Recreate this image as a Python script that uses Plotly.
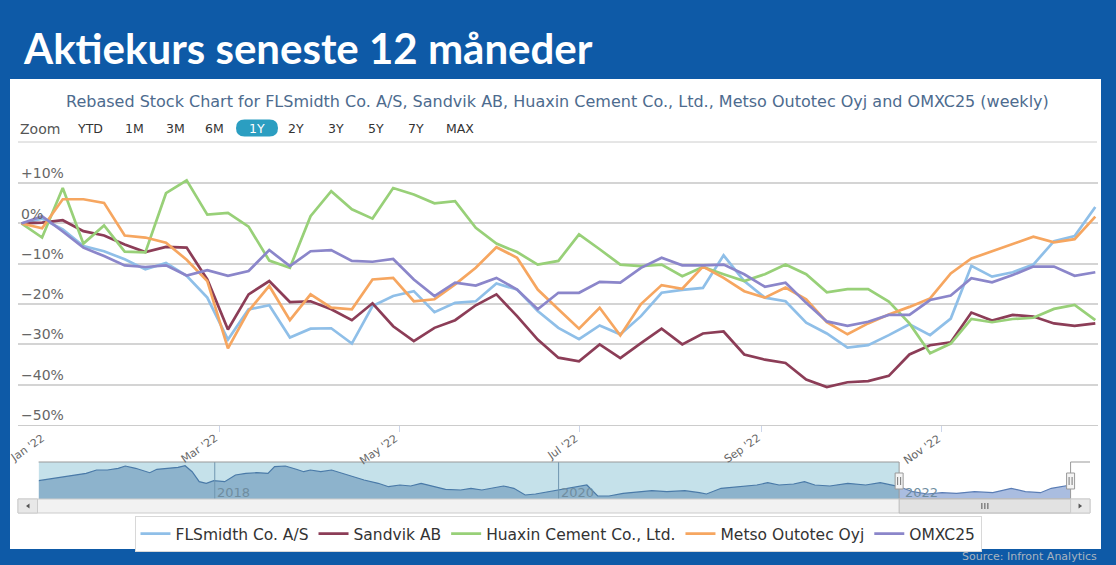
import plotly.graph_objects as go
import pandas as pd

W, H = 1116, 565


def px(x):
    return x / W


def py(y):
    return 1 - y / H


# ---------------- data ----------------
week_start = "2021-12-24"
n_weeks = 53
week_dates = pd.date_range(week_start, periods=n_weeks, freq="7D")

fls = [0, 1.2, -1.5, -5.6, -6.9, -8.9, -11.4, -9.8, -13, -18.4, -28.8, -21.3, -20.3, -28.3,
       -26.1, -26, -29.8, -20.5, -18, -16.8, -22, -19.7, -19.3, -14.9, -16.4, -21.7, -25.9,
       -28.7, -25.3, -27.5, -23, -17.2, -16.5, -16, -7.9, -14.3, -18.4, -19.3, -24.6, -27.3,
       -30.8, -30.2, -27.7, -25, -27.7, -23.6, -10.5, -13.2, -12.1, -10.2, -4.4, -3.1, 4.1]
sandvik = [0, 0.2, 0.8, -1.9, -3, -5.2, -7.1, -5.8, -6, -13.9, -26.3, -17.6, -14.3, -19.5,
           -19.3, -21.3, -24, -19.8, -25.5, -29.2, -25.9, -24, -20.3, -17.6, -23, -28.8, -33.3,
           -34.2, -30, -33.4, -29.7, -26.1, -30, -27.3, -26.8, -32.5, -33.8, -34.6, -38.7, -40.6,
           -39.4, -39.1, -37.8, -32.5, -30.2, -29.5, -22.1, -24.1, -22.7, -23.1, -24.8, -25.4, -24.8]
huaxin = [0, -3.5, 8.8, -5, -0.5, -7, -7.2, 7.5, 10.7, 2.2, 2.6, -0.8, -9.2, -11,
          1.8, 8, 3.5, 1.2, 8.8, 7.2, 5, 5.5, -1.1, -5, -7.1, -10.2, -9.3,
          -2.7, -6.4, -10.2, -10.6, -10.2, -13.1, -10.8, -12.6, -14.3, -12.6, -10.2, -12.6, -17.1,
          -16.3, -16.3, -19.4, -24.8, -32.2, -29.8, -23.7, -24.5, -23.7, -23.4, -21.2, -20.2, -24]
metso = [0, -1.2, 6, 6, 5.1, -3, -3.5, -4.8, -9, -14.3, -31, -21.7, -15.5, -24,
         -17.6, -20.9, -21.3, -13.9, -13.5, -19.3, -18.8, -15.1, -11, -5.9, -8.5, -16.4, -21.3,
         -26.1, -20.9, -27.8, -20, -15.3, -16.2, -10.7, -13.5, -16.8, -18.4, -15.9, -18.8, -24.5,
         -27.5, -24.8, -22.6, -20.7, -18.6, -12.4, -8.7, -6.9, -5, -3.3, -4.7, -3.9, 1.7]
omxc25 = [0, 1.8, -2, -6, -8.1, -10.4, -10.8, -10.4, -12.9, -11.6, -13, -11.8, -6.6, -10.6,
          -6.9, -6.6, -9.3, -9.5, -8.8, -13.9, -18, -14.7, -15.4, -13.5, -16.4, -21.3, -17.2,
          -17.2, -14.5, -14.7, -11, -8.5, -10.4, -10.4, -10.2, -12.6, -15.7, -14.7, -19.7, -24.3,
          -25.4, -24.4, -22.7, -22.7, -19, -17.9, -13.6, -14.6, -12.8, -10.7, -10.7, -13, -12.1]

series_names = ["FLSmidth Co. A/S", "Sandvik AB", "Huaxin Cement Co., Ltd.",
                "Metso Outotec Oyj", "OMXC25"]
series_values = [fls, sandvik, huaxin, metso, omxc25]
series_colors = ["#8fbfe8", "#8c3d57", "#98d078", "#f6a660", "#8b86ca"]

y_tick_vals = [10, 0, -10, -20, -30, -40, -50]
y_tick_text = ["+10%", "0%", "\u221210%", "\u221220%", "\u221230%", "\u221240%", "\u221250%"]
x_tick_vals = ["2022-01-01", "2022-03-01", "2022-05-01", "2022-07-01", "2022-09-01", "2022-11-01"]
x_tick_text = ["Jan '22", "Mar '22", "May '22", "Jul '22", "Sep '22", "Nov '22"]

# navigator (long history, relative level)
nav_dates = [
    "2016-12-23", "2017-01-25", "2017-03-04", "2017-04-03", "2017-04-25", "2017-05-18",
    "2017-06-10", "2017-06-25", "2017-07-17", "2017-08-01", "2017-08-16", "2017-08-31",
    "2017-09-23", "2017-10-15", "2017-10-30", "2017-11-14", "2017-11-29", "2017-12-14",
    "2017-12-30", "2018-01-22", "2018-02-14", "2018-03-08", "2018-03-31", "2018-04-24",
    "2018-05-08", "2018-05-31", "2018-06-23", "2018-07-09", "2018-07-23", "2018-08-14",
    "2018-09-06", "2018-09-29", "2018-10-23", "2018-11-14", "2018-12-14", "2019-01-05",
    "2019-01-29", "2019-02-21", "2019-03-15", "2019-04-07", "2019-05-06", "2019-06-07",
    "2019-06-29", "2019-07-22", "2019-08-14", "2019-09-06", "2019-09-28", "2019-10-22",
    "2019-11-13", "2019-12-13", "2020-01-14", "2020-03-01", "2020-03-24", "2020-04-17",
    "2020-05-17", "2020-06-17", "2020-07-17", "2020-08-18", "2020-09-25", "2020-10-26",
    "2020-11-10", "2020-12-11", "2021-01-18", "2021-02-25", "2021-03-20", "2021-04-13",
    "2021-05-14", "2021-06-06", "2021-06-28", "2021-07-30", "2021-09-06", "2021-10-14",
    "2021-11-14", "2021-12-10", "2021-12-24", "2022-01-22", "2022-02-22", "2022-03-25",
    "2022-04-25", "2022-06-02", "2022-07-11", "2022-08-19", "2022-09-18", "2022-10-20",
    "2022-11-12", "2022-12-04", "2022-12-23"]
nav_values = [
    18.3, 20.7, 23, 25.7, 29, 29,
    30.7, 33, 30.7, 28.3, 26.3, 29.7,
    30.7, 31.7, 33.3, 27.3, 17.3, 15.7,
    18.3, 17.3, 24, 25.7, 26.3, 25.7,
    32.3, 33, 29.7, 27.3, 29, 27.3,
    29, 25.7, 21.7, 19, 15.7, 12.3,
    14, 13, 15.7, 13, 9.7, 9,
    10.7, 9, 10.7, 13, 10.7, 4,
    5, 7.3, 10, 14, 3, 3,
    5.7, 7.3, 8.3, 7.3, 8.3, 6.3,
    5, 10.7, 12.3, 14, 16.3, 14,
    15, 17.3, 14, 13, 15.7, 14,
    16.3, 14, 12.3, 7.3, 5, 6.3,
    5.7, 7.3, 6.3, 10.7, 7.3, 6.3,
    10.7, 12.3, 14]
nav_year_lines = ["2018-01-01", "2020-01-01", "2022-01-01"]
nav_year_labels = ["2018", "2020", "2022"]

zoom_buttons = ["YTD", "1M", "3M", "6M", "1Y", "2Y", "3Y", "5Y", "7Y", "MAX"]
selected_button = "1Y"

FONT = "DejaVu Sans"
BLUE = "#0e5aa7"

# ---------------- layout geometry ----------------
main_x_range = ["2021-12-22 20:00", "2022-12-23 22:00"]
main_dom_x = [px(18), px(1098)]
main_dom_y = [py(425), py(165)]
nav_x_range = ["2016-12-23", "2022-12-26"]
nav_px = (38.6, 1072)
nav_dom_x = [px(nav_px[0]), px(nav_px[1])]
nav_top, nav_bot = 462, 499

sel_start = week_dates[0]
sel_end = week_dates[-1]


def nav_date_px(d):
    t0 = pd.Timestamp(nav_x_range[0])
    t1 = pd.Timestamp(nav_x_range[1])
    frac = (pd.Timestamp(d) - t0) / (t1 - t0)
    return nav_px[0] + frac * (nav_px[1] - nav_px[0])


h1 = nav_date_px(sel_start)
h2 = nav_date_px(sel_end)

fig = go.Figure()

for name, vals, col in zip(series_names, series_values, series_colors):
    fig.add_trace(go.Scatter(x=week_dates, y=vals, name=name, mode="lines",
                             line=dict(color=col, width=2.7), xaxis="x", yaxis="y",
                             hoverinfo="skip"))

# navigator area series: split into unselected and selected parts
nd = pd.to_datetime(nav_dates)
pre = [i for i, d in enumerate(nd) if d <= sel_start]
post = [i for i, d in enumerate(nd) if d >= sel_start]
fig.add_trace(go.Scatter(x=[nd[i] for i in pre], y=[nav_values[i] for i in pre], mode="lines",
                         fill="tozeroy", fillcolor="#8db3cc", line=dict(color="#4a7aa8", width=1.2),
                         xaxis="x2", yaxis="y2", showlegend=False, hoverinfo="skip"))
fig.add_trace(go.Scatter(x=[nd[i] for i in post], y=[nav_values[i] for i in post], mode="lines",
                         fill="tozeroy", fillcolor="#aabde0", line=dict(color="#5a7db5", width=1.2),
                         xaxis="x2", yaxis="y2", showlegend=False, hoverinfo="skip"))

shapes = []
# white panel
shapes.append(dict(type="rect", xref="paper", yref="paper", x0=px(10), x1=px(1101),
                   y0=py(549), y1=py(79), fillcolor="white", line=dict(width=0), layer="below"))
# separator under zoom row
shapes.append(dict(type="line", xref="paper", yref="paper", x0=px(18), x1=px(1097),
                   y0=py(142), y1=py(142), line=dict(color="#cccccc", width=1)))
# navigator unselected background
shapes.append(dict(type="rect", xref="x2", yref="y2 domain", x0=nav_x_range[0], x1=sel_start,
                   y0=0, y1=1, fillcolor="#c5e1ea", line=dict(width=0), layer="below"))
# navigator year lines
for d in nav_year_lines[:2]:
    shapes.append(dict(type="line", xref="x2", yref="y2 domain", x0=d, x1=d, y0=0, y1=1,
                       line=dict(color="#6f96b0", width=1)))
# navigator outline
outline = (f"M {px(nav_px[0])} {py(nav_top)} L {px(h1)} {py(nav_top)} L {px(h1)} {py(nav_bot)} "
           f"L {px(h2)} {py(nav_bot)} L {px(h2)} {py(nav_top)} L {px(1090)} {py(nav_top)}")
shapes.append(dict(type="path", xref="paper", yref="paper", path=outline,
                   line=dict(color="#999999", width=1)))
# scrollbar
sb_top, sb_bot = 499, 513
shapes.append(dict(type="rect", xref="paper", yref="paper", x0=px(18), x1=px(1090),
                   y0=py(sb_bot), y1=py(sb_top), fillcolor="#f2f2f2",
                   line=dict(color="#cccccc", width=1)))
shapes.append(dict(type="rect", xref="paper", yref="paper", x0=px(18), x1=px(37.5),
                   y0=py(sb_bot), y1=py(sb_top), fillcolor="#e8e8e8",
                   line=dict(color="#cccccc", width=1)))
shapes.append(dict(type="rect", xref="paper", yref="paper", x0=px(h1), x1=px(h2),
                   y0=py(sb_bot), y1=py(sb_top), fillcolor="#e2e2e2",
                   line=dict(color="#bbbbbb", width=1)))
shapes.append(dict(type="rect", xref="paper", yref="paper", x0=px(h2), x1=px(1090),
                   y0=py(sb_bot), y1=py(sb_top), fillcolor="#e8e8e8",
                   line=dict(color="#cccccc", width=1)))
mid = (h1 + h2) / 2
for dx in (-3, 0, 3):
    shapes.append(dict(type="line", xref="paper", yref="paper", x0=px(mid + dx), x1=px(mid + dx),
                       y0=py(503), y1=py(509), line=dict(color="#555555", width=1)))
shapes.append(dict(type="path", xref="paper", yref="paper",
                   path=f"M {px(29.5)} {py(503.5)} L {px(26)} {py(506)} L {px(29.5)} {py(508.5)} Z",
                   fillcolor="#555555", line=dict(width=0)))
rb = (h2 + 1090) / 2
shapes.append(dict(type="path", xref="paper", yref="paper",
                   path=f"M {px(rb - 1.7)} {py(503.5)} L {px(rb + 1.8)} {py(506)} L {px(rb - 1.7)} {py(508.5)} Z",
                   fillcolor="#555555", line=dict(width=0)))
# navigator handles
for hx in (h1, h2):
    shapes.append(dict(type="rect", xref="paper", yref="paper", x0=px(hx - 4), x1=px(hx + 4),
                       y0=py(489), y1=py(473), fillcolor="#f4f4f4",
                       line=dict(color="#999999", width=1)))
    for dx in (-1.5, 1.5):
        shapes.append(dict(type="line", xref="paper", yref="paper", x0=px(hx + dx), x1=px(hx + dx),
                           y0=py(477), y1=py(485), line=dict(color="#777777", width=1)))

# zoom buttons
btn_centers = [90, 134, 175, 215, 257, 296, 336, 376, 416, 460]
btn_y = 128
annotations = []
for lbl, cx in zip(zoom_buttons, btn_centers):
    if lbl == selected_button:
        x0, x1, y0, y1, r = cx - 21, cx + 21, btn_y - 8.5, btn_y + 8.5, 8.5
        path = (f"M {px(x0 + r)} {py(y0)} L {px(x1 - r)} {py(y0)} "
                f"Q {px(x1)} {py(y0)} {px(x1)} {py(btn_y)} Q {px(x1)} {py(y1)} {px(x1 - r)} {py(y1)} "
                f"L {px(x0 + r)} {py(y1)} Q {px(x0)} {py(y1)} {px(x0)} {py(btn_y)} "
                f"Q {px(x0)} {py(y0)} {px(x0 + r)} {py(y0)} Z")
        shapes.append(dict(type="path", xref="paper", yref="paper", path=path,
                           fillcolor="#2b9ec1", line=dict(width=0)))
        col = "white"
    else:
        col = "#333333"
    annotations.append(dict(text=lbl, x=px(cx), y=py(btn_y), xref="paper", yref="paper",
                            xanchor="center", yanchor="middle", showarrow=False,
                            font=dict(family=FONT, size=12.5, color=col)))
annotations.append(dict(text="Zoom", x=px(18), y=py(btn_y + 1), xref="paper", yref="paper",
                        xanchor="left", yanchor="middle", showarrow=False,
                        font=dict(family=FONT, size=14, color="#555555")))

# x-axis tick labels (rotated)
for tv, tt in zip(x_tick_vals, x_tick_text):
    annotations.append(dict(text=tt, x=tv, y=py(429), xref="x", yref="paper", xanchor="right",
                            yanchor="top", textangle=-35, showarrow=False, xshift=4,
                            font=dict(family=FONT, size=11, color="#666666")))

# title and subtitle
annotations.append(dict(text="<b>Aktiekurs seneste 12 måneder</b>", x=px(21), y=py(48),
                        xref="paper", yref="paper", xanchor="left", yanchor="middle",
                        showarrow=False, font=dict(family="Lato", size=42, color="white")))
annotations.append(dict(text=("Rebased Stock Chart for FLSmidth Co. A/S, Sandvik AB, Huaxin Cement Co., "
                              "Ltd., Metso Outotec Oyj and OMXC25 (weekly)"),
                        x=px(557), y=py(101), xref="paper", yref="paper", xanchor="center",
                        yanchor="middle", showarrow=False,
                        font=dict(family=FONT, size=16, color="#4d6b8e")))
# navigator year labels
for d, lbl in zip(nav_year_lines, nav_year_labels):
    annotations.append(dict(text=lbl, x=d, y=py(492), xref="x2", yref="paper", xanchor="left",
                            yanchor="middle", xshift=0, showarrow=False,
                            font=dict(family=FONT, size=13, color="#6f8da0")))
# source
annotations.append(dict(text="Source: Infront Analytics", x=px(1099), y=py(556), xref="paper",
                        yref="paper", xanchor="right", yanchor="middle", showarrow=False,
                        font=dict(family=FONT, size=11, color="#a9b4c0")))

fig.update_layout(
    width=W, height=H,
    margin=dict(l=0, r=0, t=0, b=0),
    paper_bgcolor=BLUE,
    plot_bgcolor="rgba(0,0,0,0)",
    shapes=shapes,
    annotations=annotations,
    showlegend=True,
    legend=dict(orientation="h", x=0.5, xanchor="center", y=py(534), yanchor="middle",
                bgcolor="white", bordercolor="#d8d8d8", borderwidth=1,
                font=dict(family=FONT, size=15.5, color="#333333"), itemwidth=30,
                traceorder="normal"),
    xaxis=dict(type="date", domain=main_dom_x, range=main_x_range, anchor="y",
               tickvals=x_tick_vals, showticklabels=False,
               ticks="outside", ticklen=6, tickcolor="#ccd6eb", showgrid=False,
               showline=True, linecolor="#cccccc", zeroline=False, fixedrange=True),
    yaxis=dict(domain=main_dom_y, range=[-50, 14.5], anchor="x", tickvals=y_tick_vals,
               ticktext=y_tick_text, ticklabelposition="inside top",
               tickfont=dict(family=FONT, size=14, color="#666666"),
               showgrid=True, gridcolor="#d4d4d4", gridwidth=1.6, zeroline=False,
               showline=False, ticks="", fixedrange=True),
    xaxis2=dict(type="date", domain=nav_dom_x, range=nav_x_range, anchor="y2",
                showticklabels=False, showgrid=False, zeroline=False, showline=False, ticks=""),
    yaxis2=dict(domain=[py(nav_bot), py(nav_top)], range=[0, 37], anchor="x2",
                showticklabels=False, showgrid=False, zeroline=False, showline=False, ticks=""),
)

fig.write_html("out.html", config={"displayModeBar": False},
               post_script="document.body.style.margin='0px';document.body.style.overflow='hidden';")
